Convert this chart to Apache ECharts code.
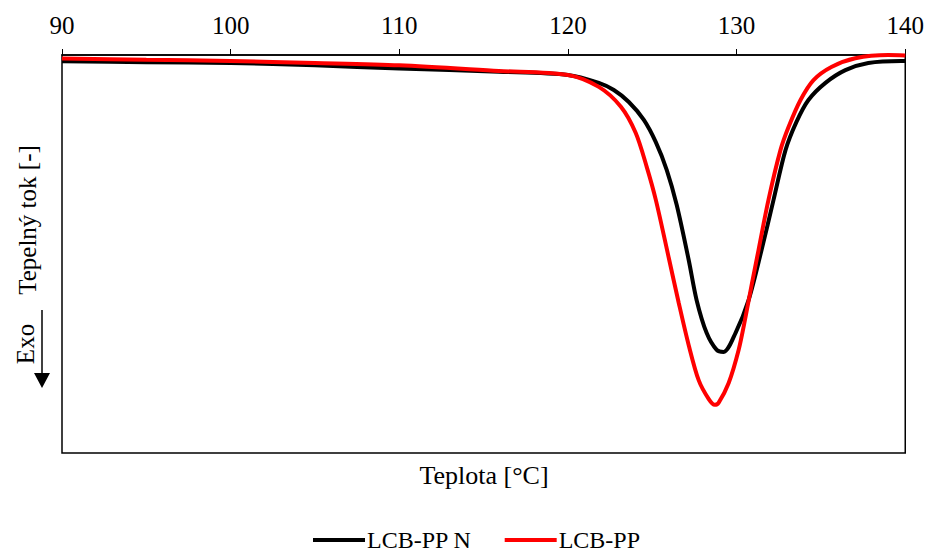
<!DOCTYPE html>
<html>
<head>
<meta charset="utf-8">
<script src="https://cdn.jsdelivr.net/npm/echarts@6/dist/echarts.min.js"></script>
<style>html,body{margin:0;padding:0;background:#fff;}#c{width:927px;height:552px;}</style>
</head>
<body>
<div id="c"></div>
<script>
// Temperature ticks
var xTicks = [90, 100, 110, 120, 130, 140];
// LCB-PP N (black)
var tempN = [90, 95, 100, 105, 110, 115.9, 120, 121.83, 122.72, 123.61, 124.5, 125.21, 125.86, 126.45, 127.16, 127.63, 128.22, 128.82, 129.23, 129.94, 130.71, 131.48, 132.19, 132.9, 133.55, 134.26, 135.27, 136.45, 137.81, 139.76, 140];
var heatN = [98.4, 98.2, 98.0, 97.4, 96.6, 95.8, 95.0, 93.0, 91.2, 88.2, 83.7, 78.1, 71.1, 62.3, 48.5, 38.4, 30.2, 25.9, 25.4, 30.2, 38.4, 51.0, 63.6, 76.1, 83.2, 88.7, 93.0, 96.2, 98.0, 98.5, 98.5];
// LCB-PP (red)
var tempP = [90, 95, 100, 105, 110, 115.9, 120, 121.83, 123.14, 124.02, 124.67, 125.21, 125.98, 126.57, 127.16, 127.75, 128.34, 128.7, 128.93, 129.53, 130.12, 130.53, 130.89, 131.3, 131.89, 132.6, 133.08, 133.79, 134.56, 135.62, 137.04, 138.99, 140];
var heatP = [99.1, 98.8, 98.5, 98.0, 97.4, 96.0, 95.0, 92.0, 87.0, 80.4, 71.9, 63.6, 49.0, 37.7, 27.1, 18.3, 13.6, 12.1, 12.6, 17.6, 25.9, 34.2, 42.2, 51.0, 63.6, 76.1, 81.9, 88.7, 93.7, 97.0, 99.2, 100, 99.9];
var seriesNames = ['LCB-PP N', 'LCB-PP'];

function pairs(xs, ys) { return xs.map(function (x, i) { return [x, ys[i]]; }); }

var FONT = '"Liberation Serif", "Times New Roman", serif';
var chart = echarts.init(document.getElementById('c'), null, { renderer: 'svg' });
chart.setOption({
  animation: false,
  backgroundColor: '#fff',
  grid: { left: 62, right: 20, top: 55, bottom: 99, show: true, borderColor: '#000', borderWidth: 1.5, backgroundColor: 'transparent' },
  xAxis: {
    type: 'value', position: 'top', min: xTicks[0], max: xTicks[xTicks.length - 1], interval: 10,
    axisLine: { show: true, onZero: false, lineStyle: { color: '#000', width: 1.5 } },
    axisTick: { show: true, inside: false, length: 6, lineStyle: { color: '#000', width: 1 } },
    axisLabel: { color: '#000', fontSize: 25, fontFamily: FONT, margin: 17 },
    splitLine: { show: false }
  },
  yAxis: {
    type: 'value', min: 0, max: 100,
    axisLine: { show: false }, axisTick: { show: false }, axisLabel: { show: false }, splitLine: { show: false }
  },
  legend: {
    data: [{ name: seriesNames[0], icon: 'rect' }, { name: seriesNames[1], icon: 'rect' }],
    left: 313, top: 528, itemWidth: 52, itemHeight: 4, itemGap: 33, padding: 0,
    textStyle: { color: '#000', fontSize: 24, fontFamily: FONT, padding: [0, 0, 0, -3] }
  },
  series: [
    { name: seriesNames[0], type: 'line', data: pairs(tempN, heatN), smooth: 0.3, symbol: 'none', lineStyle: { color: '#000', width: 4 }, itemStyle: { color: '#000' } },
    { name: seriesNames[1], type: 'line', data: pairs(tempP, heatP), smooth: 0.3, symbol: 'none', lineStyle: { color: '#ff0000', width: 4 }, itemStyle: { color: '#ff0000' } }
  ],
  graphic: [
    { type: 'text', x: 484, y: 475, style: { text: 'Teplota [°C]', font: '26px ' + FONT, fill: '#000', textAlign: 'center', textVerticalAlign: 'middle' } },
    { type: 'text', x: 27, y: 220, rotation: Math.PI / 2, style: { text: 'Tepelný tok [-]', font: '25px ' + FONT, fill: '#000', textAlign: 'center', textVerticalAlign: 'middle' } },
    { type: 'text', x: 25, y: 344, rotation: Math.PI / 2, style: { text: 'Exo', font: '25px ' + FONT, fill: '#000', textAlign: 'center', textVerticalAlign: 'middle' } },
    { type: 'line', shape: { x1: 42, y1: 310, x2: 42, y2: 376 }, style: { stroke: '#000', lineWidth: 1.5 } },
    { type: 'polygon', shape: { points: [[34, 373], [50, 373], [42, 388]] }, style: { fill: '#000' } }
  ]
});
</script>
</body>
</html>
